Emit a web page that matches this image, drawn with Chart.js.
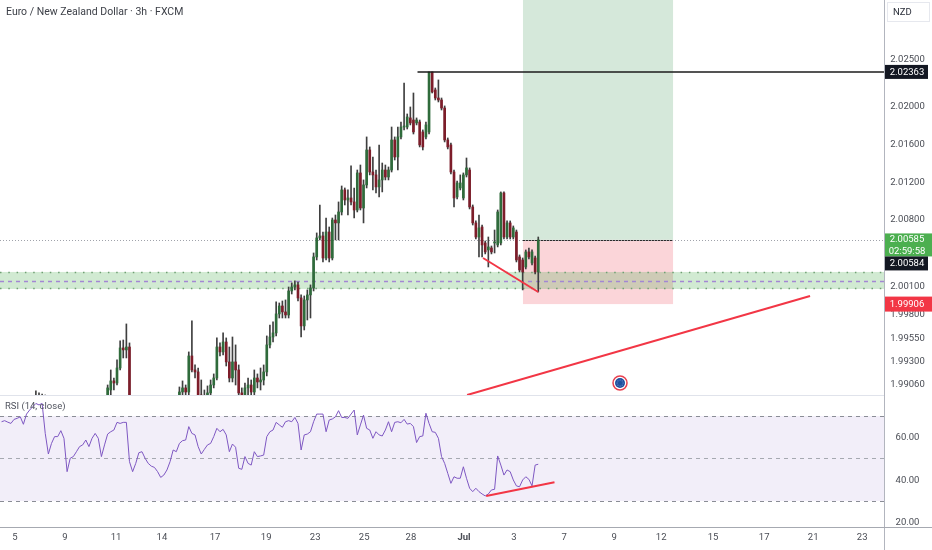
<!DOCTYPE html>
<html>
<head>
<meta charset="utf-8">
<script src="https://cdn.jsdelivr.net/npm/chart.js@4.4.1/dist/chart.umd.min.js"></script>
<style>
  body { margin:0; background:#fff; width:932px; height:550px; overflow:hidden; font-family:Roboto, "Noto Sans", sans-serif; }
  #title { position:absolute; left:6px; top:6px; font-size:10.5px; line-height:12px; color:#3d4048; z-index:2; }
  #pricePane { position:absolute; left:0; top:0; }
  #rsiPane { position:absolute; left:0; top:395px; }
</style>
</head>
<body>
<div id="title">Euro / New Zealand Dollar · 3h · FXCM</div>
<canvas id="pricePane" width="932" height="395"></canvas>
<canvas id="rsiPane" width="932" height="155"></canvas>
<script>
// EURNZD 3h candles
var opens = [
  1.98468,1.98511,1.98553,1.98532,1.98511,1.98595,1.98638,1.98680,1.98595,1.98701,
  1.98786,1.98849,1.98913,1.98892,1.98934,1.98574,1.98384,1.98468,1.98532,1.98511,
  1.98595,1.98511,1.98193,1.98341,1.98362,1.98426,1.98489,1.98532,1.98595,1.98511,
  1.98638,1.98701,1.98638,1.98447,1.98627,1.98997,1.99093,1.99071,1.99230,1.99442,
  1.99421,1.99452,1.98680,1.98468,1.98574,1.98722,1.98743,1.98638,1.98553,1.98511,
  1.98468,1.98384,1.98278,1.98320,1.98405,1.98553,1.98765,1.98743,1.98976,1.99019,
  1.98976,1.99357,1.99209,1.99188,1.98944,1.98870,1.98934,1.98966,1.99050,1.99124,
  1.99452,1.99400,1.99505,1.99294,1.99124,1.99294,1.99209,1.98966,1.98913,1.99019,
  1.99050,1.98976,1.99124,1.99082,1.99103,1.99188,1.99474,1.99558,1.99601,1.99802,
  1.99886,1.99823,1.99791,2.00045,2.00087,2.00109,1.99971,1.99675,1.99950,2.00003,
  2.00077,2.00405,2.00606,2.00627,2.00394,2.00669,2.00394,2.00796,2.00765,2.00881,
  2.01114,2.01008,2.01029,2.00987,2.00902,2.01294,2.00923,2.01167,2.01537,2.01304,
  2.01273,2.01146,2.01220,2.01325,2.01251,2.01325,2.01643,2.01463,2.01675,2.01780,
  2.01780,2.01876,2.01854,2.01823,2.01833,2.01728,2.01675,2.01728,2.02362,2.02172,
  2.02087,2.02066,2.01981,2.01643,2.01590,2.01304,2.01040,2.01135,2.01029,2.01273,
  2.01325,2.00934,2.00765,2.00616,2.00722,2.00553,2.00479,2.00500,2.00553,2.00532,
  2.00553,2.01082,2.00616,2.00765,2.00616,2.00669,2.00405,2.00373,2.00299,2.00458,
  2.00341,2.00394,2.00246
];
var highs = [
  1.98574,1.98595,1.98616,1.98574,1.98638,1.98680,1.98722,1.98701,1.98743,1.98828,
  1.98892,1.98987,1.98966,1.98955,1.98944,1.98595,1.98511,1.98574,1.98574,1.98638,
  1.98616,1.98532,1.98384,1.98405,1.98468,1.98532,1.98574,1.98638,1.98616,1.98680,
  1.98743,1.98765,1.98680,1.98680,1.99050,1.99209,1.99124,1.99315,1.99516,1.99526,
  1.99696,1.99495,1.98722,1.98616,1.98765,1.98807,1.98786,1.98680,1.98595,1.98553,
  1.98511,1.98426,1.98362,1.98447,1.98595,1.98807,1.98828,1.99029,1.99093,1.99050,
  1.99400,1.99728,1.99262,1.99230,1.99103,1.98997,1.99040,1.99103,1.99167,1.99548,
  1.99495,1.99601,1.99548,1.99452,1.99558,1.99474,1.99262,1.99019,1.99071,1.99124,
  1.99103,1.99209,1.99167,1.99230,1.99262,1.99569,1.99685,1.99717,1.99929,1.99918,
  1.99939,1.99950,2.00087,2.00130,2.00151,2.00140,2.00003,1.99992,2.00056,2.00109,
  2.00447,2.00659,2.00955,2.00669,2.00817,2.00722,2.00817,2.00849,2.00987,2.01156,
  2.01135,2.01114,2.01368,2.01135,2.01325,2.01378,2.01220,2.01675,2.01569,2.01463,
  2.01325,2.01590,2.01399,2.01378,2.01357,2.01780,2.01675,2.01780,2.01833,2.02246,
  2.01918,2.01992,2.02140,2.01876,2.01854,2.01749,2.01833,2.02362,2.02362,2.02193,
  2.02278,2.02087,2.02003,2.01664,2.01611,2.01325,2.01209,2.01273,2.01294,2.01452,
  2.01347,2.00955,2.00786,2.00849,2.00743,2.00574,2.00616,2.00521,2.00690,2.00902,
  2.01093,2.01093,2.00786,2.00786,2.00733,2.00690,2.00426,2.00394,2.00479,2.00500,
  2.00479,2.00415,2.00616
];
var lows = [
  1.98426,1.98468,1.98489,1.98468,1.98489,1.98574,1.98595,1.98553,1.98574,1.98680,
  1.98765,1.98828,1.98849,1.98849,1.98532,1.98341,1.98341,1.98426,1.98468,1.98468,
  1.98468,1.98151,1.98151,1.98299,1.98320,1.98384,1.98447,1.98489,1.98468,1.98489,
  1.98595,1.98595,1.98405,1.98415,1.98595,1.98944,1.98997,1.99050,1.99209,1.99336,
  1.99336,1.98627,1.98426,1.98426,1.98553,1.98680,1.98595,1.98511,1.98468,1.98426,
  1.98341,1.98235,1.98235,1.98278,1.98362,1.98532,1.98701,1.98722,1.98944,1.98913,
  1.98944,1.99188,1.99124,1.98892,1.98828,1.98839,1.98892,1.98934,1.99019,1.99103,
  1.99357,1.99368,1.99251,1.99082,1.99082,1.99050,1.98892,1.98839,1.98870,1.98944,
  1.98913,1.98944,1.99019,1.98997,1.99050,1.99146,1.99442,1.99505,1.99569,1.99759,
  1.99759,1.99759,1.99759,2.00013,2.00056,1.99939,1.99558,1.99632,1.99738,1.99759,
  2.00045,2.00373,2.00585,2.00352,2.00373,2.00352,2.00373,2.00585,2.00585,2.00849,
  2.00955,2.00849,2.00955,2.00817,2.00881,2.00902,2.00765,2.01135,2.01273,2.01114,
  2.01082,2.01040,2.01093,2.01220,2.01220,2.01304,2.01431,2.01325,2.01653,2.01749,
  2.01759,2.01802,2.01706,2.01802,2.01569,2.01537,2.01653,2.01706,2.02140,2.02066,
  2.02045,2.01960,2.01622,2.01548,2.01283,2.00934,2.01019,2.01114,2.01008,2.01251,
  2.00913,2.00743,2.00595,2.00405,2.00405,2.00437,2.00299,2.00437,2.00447,2.00511,
  2.00532,2.00595,2.00595,2.00595,2.00595,2.00352,2.00246,2.00056,2.00278,2.00384,
  2.00320,2.00225,2.00034
];
var closes = [
  1.98511,1.98553,1.98532,1.98511,1.98595,1.98638,1.98680,1.98595,1.98701,1.98786,
  1.98849,1.98913,1.98892,1.98934,1.98574,1.98384,1.98468,1.98532,1.98511,1.98595,
  1.98511,1.98193,1.98341,1.98362,1.98426,1.98489,1.98532,1.98595,1.98511,1.98638,
  1.98701,1.98638,1.98447,1.98627,1.99019,1.99093,1.99071,1.99230,1.99442,1.99421,
  1.99452,1.98680,1.98468,1.98574,1.98722,1.98743,1.98638,1.98553,1.98511,1.98468,
  1.98384,1.98278,1.98320,1.98405,1.98553,1.98765,1.98743,1.98976,1.99019,1.98976,
  1.99357,1.99209,1.99188,1.98944,1.98870,1.98934,1.98966,1.99050,1.99124,1.99452,
  1.99400,1.99505,1.99294,1.99124,1.99294,1.99209,1.98966,1.98913,1.99019,1.99050,
  1.98976,1.99124,1.99082,1.99103,1.99188,1.99474,1.99558,1.99601,1.99802,1.99886,
  1.99823,1.99791,2.00045,2.00087,2.00109,1.99971,1.99675,1.99950,2.00003,2.00077,
  2.00405,2.00606,2.00627,2.00394,2.00669,2.00394,2.00796,2.00765,2.00881,2.01114,
  2.01008,2.01029,2.00987,2.00902,2.01294,2.00923,2.01167,2.01537,2.01304,2.01273,
  2.01146,2.01220,2.01325,2.01251,2.01325,2.01643,2.01463,2.01675,2.01780,2.01791,
  2.01886,2.01823,2.01728,2.01854,2.01590,2.01569,2.01802,2.02362,2.02151,2.02087,
  2.02066,2.01981,2.01643,2.01569,2.01304,2.01029,2.01188,2.01188,2.01273,2.01347,
  2.00934,2.00765,2.00616,2.00712,2.00532,2.00458,2.00511,2.00458,2.00563,2.00881,
  2.01082,2.00616,2.00765,2.00616,2.00712,2.00373,2.00267,2.00246,2.00458,2.00405,
  2.00458,2.00246,2.00585
];
// RSI(14, close), one value per candle
var rsiValues = [
  67.3,67.8,67.1,66.5,68.4,68.9,69.6,66.1,70.9,72.8,
  74.4,75.9,75.2,75.9,61.8,52.1,57.1,60.3,60.3,63.1,
  59.5,43.8,50.1,50.9,53.2,55.6,56.4,58.7,55.6,59.5,
  61.8,59.5,50.9,56.4,61.5,62.6,63.4,67.0,66.5,67.0,
  67.0,48.5,43.8,47.7,52.7,53.2,50.1,47.7,46.4,45.8,
  43.8,41.1,42.2,44.6,48.5,54.0,53.2,57.1,58.4,58.7,
  65.0,61.8,61.1,55.6,52.1,54.3,56.4,57.1,60.3,64.2,
  62.6,63.7,61.1,53.2,56.8,55.3,45.4,44.9,50.9,47.7,
  46.9,53.2,50.9,51.2,51.6,60.3,62.6,63.4,67.0,65.8,
  64.7,67.3,67.8,67.3,69.3,66.5,54.0,61.1,61.5,62.6,
  67.3,70.9,70.9,70.9,62.6,68.1,68.6,69.6,72.5,69.3,
  69.3,68.9,70.9,72.8,61.1,65.8,70.4,64.2,63.4,59.5,
  62.6,61.1,60.6,63.4,67.3,62.6,67.0,67.3,66.8,68.4,
  66.2,66.5,65.0,57.5,60.3,60.6,71.3,66.5,62.6,62.3,
  59.5,50.9,47.7,43.0,38.3,41.4,40.7,40.7,46.1,40.7,
  36.0,34.4,36.0,34.4,33.3,32.4,33.3,35.2,35.5,51.2,
  46.9,42.2,44.6,43.8,39.9,37.1,36.7,39.9,41.4,40.2,
  37.1,46.9,47.3
];

// time axis: candle index where each date label sits
var dayTicks  = [4.3, 20.3, 36.7, 51.4, 68.4, 84.8, 100.5, 116.2, 131.2, 148.2, 164.2, 180.3, 196.3, 211.4, 228.0, 244.4, 260.1, 275.8];
var dayLabels = ['5','9','11','14','17','19','23','25','28','Jul','3','7','9','12','15','17','21','23'];

var priceTicks = [2.02500, 2.02000, 2.01600, 2.01200, 2.00800, 2.00100, 1.99800, 1.99550, 1.99300, 1.99060];
var rsiTicks   = [60, 40, 20];
var rsiLevels  = [70, 50, 30];

// drawings on the chart
var resistance   = 2.02363;
var resistanceFrom = 133.3;
var lastPrice    = 2.00585;
var prevClose    = 2.00584;
var entryPrice   = 2.00585;
var stopPrice    = 1.99906;
var targetPrice  = 2.04000;
var positionFrom = 167.1, positionTo = 215.2;
var zoneTop = 2.00246, zoneMid = 2.00151, zoneBottom = 2.00066;
var priceTrendA  = [[154.3, 2.00394], [172.0, 2.00034]];
var priceTrendB  = [[149.2, 1.98944], [259.1, 1.99992]];
var rsiTrend     = [[155.3, 32.35], [177.2, 38.8]];
var eventMark    = [198.2, 1.99071];

// visible window
var viewFirst = -0.5, viewLast = 282.8;
var priceMin = 1.98944, priceMax = 2.03124;
var rsiMin = 17.76, rsiMax = 79.41;

var UP = '#2f6b3b', DOWN = '#7d1d2a', WICK = '#3f3f3f';
var AXIS_TXT = '#4a4d55';
var FONT = '9.5px Roboto, "Noto Sans", sans-serif';

var idx = closes.map(function(c, i) { return i; });
var bodyColors = idx.map(function(i) { return closes[i] >= opens[i] ? UP : DOWN; });

function pts(arr) { return arr.map(function(p) { return {x: p[0], y: p[1]}; }); }

function hline(ctx, x1, x2, y, color, dash, width) {
  ctx.save();
  ctx.strokeStyle = color;
  ctx.lineWidth = width || 1;
  ctx.setLineDash(dash || []);
  ctx.beginPath();
  ctx.moveTo(x1, Math.round(y) + 0.5);
  ctx.lineTo(x2, Math.round(y) + 0.5);
  ctx.stroke();
  ctx.restore();
}

function priceTag(ctx, top, h, w, bg, lines) {
  ctx.fillStyle = bg;
  ctx.fillRect(885, top, w, h);
  ctx.fillStyle = '#fff';
  ctx.font = FONT;
  ctx.textAlign = 'center';
  ctx.textBaseline = 'middle';
  var step = h / lines.length;
  lines.forEach(function(t, k) { ctx.fillText(t, 907, top + step * k + step / 2 + 0.5); });
}

var pricePlugin = {
  id: 'pricePlugin',
  beforeDatasetsDraw: function(chart) {
    var ctx = chart.ctx, a = chart.chartArea, x = chart.scales.x, y = chart.scales.y;
    // long position box
    var x1 = x.getPixelForValue(positionFrom), x2 = x.getPixelForValue(positionTo);
    var yT = Math.max(a.top, y.getPixelForValue(targetPrice));
    var yE = y.getPixelForValue(entryPrice), yS = y.getPixelForValue(stopPrice);
    ctx.save();
    ctx.fillStyle = '#d5e8da';
    ctx.fillRect(x1, yT, x2 - x1, yE - yT);
    ctx.fillStyle = '#fbd5d9';
    ctx.fillRect(x1, yE, x2 - x1, yS - yE);
    // demand zone
    var z1 = y.getPixelForValue(zoneTop), z2 = y.getPixelForValue(zoneBottom);
    ctx.fillStyle = 'rgba(76,175,80,0.26)';
    ctx.fillRect(a.left, z1, a.right - a.left, z2 - z1);
    ctx.restore();
    hline(ctx, a.left, a.right, z1, '#6f9f73', [1.5, 6.8], 1.6);
    hline(ctx, a.left, a.right, z2 - 1, '#6f9f73', [1.5, 6.8], 1.6);
    hline(ctx, a.left, a.right, y.getPixelForValue(zoneMid), '#a387d4', [4, 4], 1.5);
    // last price line
    hline(ctx, a.left, a.right, yE, '#a0a3ab', [1, 2], 1);
    hline(ctx, x1, x2, yE, '#2a2a2a', [2, 1], 1);
  },
  afterDatasetsDraw: function(chart) {
    var ctx = chart.ctx, x = chart.scales.x, y = chart.scales.y;
    var cx = x.getPixelForValue(eventMark[0]), cy = y.getPixelForValue(eventMark[1]);
    ctx.save();
    ctx.beginPath(); ctx.arc(cx, cy, 7, 0, Math.PI * 2);
    ctx.fillStyle = '#fff'; ctx.fill();
    ctx.strokeStyle = '#e8404f'; ctx.lineWidth = 1.5; ctx.stroke();
    ctx.beginPath(); ctx.arc(cx, cy, 5, 0, Math.PI * 2);
    ctx.fillStyle = '#1f4f9e'; ctx.fill();
    ctx.fillStyle = '#8fb0e6';
    for (var k = 0; k < 8; k++) {
      var ang = k * Math.PI / 4;
      ctx.fillRect(cx + Math.cos(ang) * 3 - 0.4, cy + Math.sin(ang) * 3 - 0.4, 0.9, 0.9);
    }
    ctx.restore();
  },
  afterDraw: function(chart) {
    var ctx = chart.ctx, y = chart.scales.y;
    ctx.save();
    ctx.fillStyle = '#b2b5be';
    ctx.fillRect(884, 0, 1, chart.height);
    // NZD box
    ctx.strokeStyle = '#e6e8ee';
    ctx.lineWidth = 1;
    ctx.strokeRect(887.5, 2.5, 42, 19);
    ctx.fillStyle = '#2a2e39';
    ctx.font = FONT;
    ctx.textAlign = 'left';
    ctx.textBaseline = 'middle';
    ctx.fillText('NZD', 893, 12.5);
    // ticks
    ctx.fillStyle = AXIS_TXT;
    ctx.textAlign = 'center';
    priceTicks.forEach(function(v) {
      ctx.fillText(v.toFixed(5), 907.5, y.getPixelForValue(v) + 0.5);
    });
    // price tags
    var yR = y.getPixelForValue(resistance);
    priceTag(ctx, yR - 7, 14, 43, '#131722', [resistance.toFixed(5)]);
    var yL = y.getPixelForValue(lastPrice);
    priceTag(ctx, yL - 6.5, 23, 47, '#4caf50', [lastPrice.toFixed(5), '02:59:58']);
    priceTag(ctx, yL + 16.5, 14, 43, '#131722', [prevClose.toFixed(5)]);
    var yS = y.getPixelForValue(stopPrice);
    priceTag(ctx, yS - 7.5, 15, 47, '#f23645', [stopPrice.toFixed(5)]);
    ctx.restore();
  }
};

new Chart(document.getElementById('pricePane'), {
  type: 'bar',
  data: {
    datasets: [
      { type: 'line', data: pts(priceTrendA), borderColor: '#f23645', borderWidth: 2, pointRadius: 0, tension: 0, fill: false },
      { type: 'line', data: pts(priceTrendB), borderColor: '#f23645', borderWidth: 2, pointRadius: 0, tension: 0, fill: false },
      { type: 'line', data: [{x: resistanceFrom, y: resistance}, {x: viewLast, y: resistance}], borderColor: '#1b1b1b', borderWidth: 1.5, pointRadius: 0, fill: false },
      { type: 'bar', data: idx.map(function(i) { return {x: i, y: [opens[i], closes[i]]}; }),
        backgroundColor: bodyColors, barThickness: 2, minBarLength: 1, grouped: false, borderWidth: 0 },
      { type: 'bar', data: idx.map(function(i) { return {x: i, y: [lows[i], highs[i]]}; }),
        backgroundColor: WICK, barThickness: 1, grouped: false, borderWidth: 0 }
    ]
  },
  options: {
    responsive: false,
    animation: false,
    events: [],
    layout: { padding: { left: 0, right: 48, top: 0, bottom: 0 } },
    plugins: { legend: { display: false }, tooltip: { enabled: false } },
    scales: {
      x: { type: 'linear', min: viewFirst, max: viewLast, display: false, offset: false },
      y: { type: 'linear', min: priceMin, max: priceMax, display: false }
    }
  },
  plugins: [pricePlugin]
});

var rsiPlugin = {
  id: 'rsiPlugin',
  beforeDatasetsDraw: function(chart) {
    var ctx = chart.ctx, a = chart.chartArea, y = chart.scales.y;
    var yHi = y.getPixelForValue(rsiLevels[0]), yLo = y.getPixelForValue(rsiLevels[2]);
    ctx.save();
    ctx.fillStyle = 'rgba(126,87,194,0.1)';
    ctx.fillRect(a.left, yHi, a.right - a.left, yLo - yHi);
    ctx.restore();
    hline(ctx, a.left, a.right, yHi, '#8a8d96', [4, 4], 1);
    hline(ctx, a.left, a.right, y.getPixelForValue(rsiLevels[1]), '#a6a9b1', [4, 4], 1);
    hline(ctx, a.left, a.right, yLo, '#8a8d96', [4, 4], 1);
  },
  afterDraw: function(chart) {
    var ctx = chart.ctx, a = chart.chartArea, x = chart.scales.x, y = chart.scales.y;
    ctx.save();
    ctx.fillStyle = '#e0e3eb';
    ctx.fillRect(0, 0, 884, 1);
    ctx.fillStyle = '#b2b5be';
    ctx.fillRect(884, 0, 1, chart.height);
    ctx.fillStyle = '#a6a9b1';
    ctx.fillRect(0, a.bottom, 932, 1);
    ctx.font = FONT;
    ctx.fillStyle = '#50535e';
    ctx.textAlign = 'left';
    ctx.textBaseline = 'middle';
    ctx.fillText('RSI (14, close)', 5, 12);
    ctx.fillStyle = AXIS_TXT;
    ctx.textAlign = 'center';
    rsiTicks.forEach(function(v) { ctx.fillText(v.toFixed(2), 907.5, y.getPixelForValue(v) + 0.5); });
    dayTicks.forEach(function(t, k) {
      ctx.font = (dayLabels[k] === 'Jul' ? 'bold ' : '') + FONT;
      ctx.fillText(dayLabels[k], x.getPixelForValue(t), a.bottom + 11);
    });
    ctx.restore();
  }
};

new Chart(document.getElementById('rsiPane'), {
  type: 'line',
  data: {
    datasets: [
      { data: pts(rsiTrend), borderColor: '#f23645', borderWidth: 2, pointRadius: 0, tension: 0, fill: false },
      { data: idx.map(function(i) { return {x: i, y: rsiValues[i]}; }), borderColor: '#7e57c2', borderWidth: 1, pointRadius: 0, tension: 0, fill: false }
    ]
  },
  options: {
    responsive: false,
    animation: false,
    events: [],
    layout: { padding: { left: 0, right: 48, top: 1, bottom: 23 } },
    plugins: { legend: { display: false }, tooltip: { enabled: false } },
    scales: {
      x: { type: 'linear', min: viewFirst, max: viewLast, display: false },
      y: { type: 'linear', min: rsiMin, max: rsiMax, display: false }
    }
  },
  plugins: [rsiPlugin]
});
</script>
</body>
</html>
